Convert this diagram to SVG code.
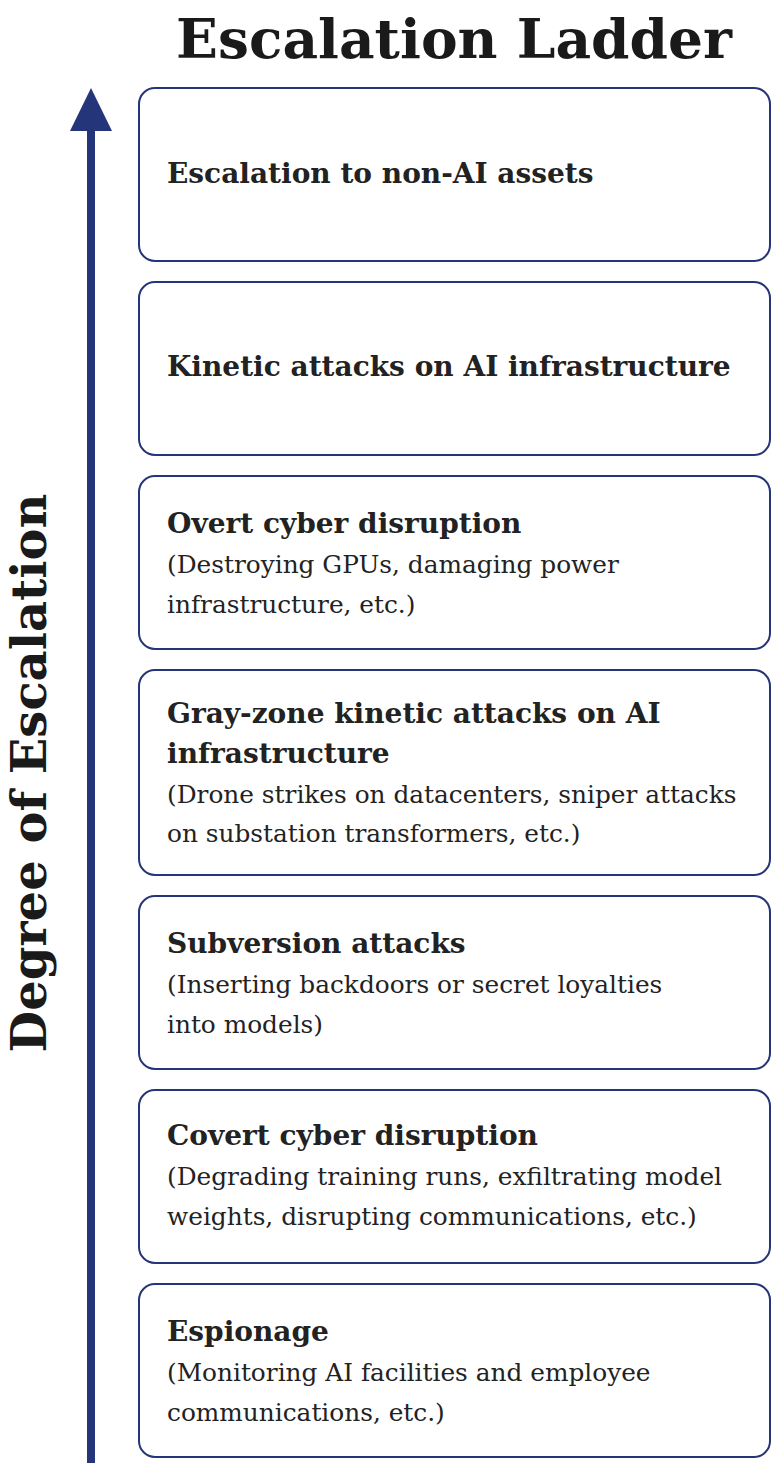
<svg xmlns="http://www.w3.org/2000/svg" width="772" height="1463" viewBox="0 0 772 1463">
<style>
.box{fill:#fff;stroke:#24357a;stroke-width:2}
.h{font-family:"DejaVu Serif",serif;font-weight:bold;font-size:28px;fill:#222}
.b{font-family:"DejaVu Serif",serif;font-size:24.8px;fill:#222}
.t{font-family:"DejaVu Serif",serif;font-weight:bold;font-size:55px;fill:#1a1a1a}
</style>
<rect width="772" height="1463" fill="#fff"/>
<text class="t" x="454" y="58" text-anchor="middle">Escalation Ladder</text>
<text class="t" transform="translate(46,773) rotate(-90)" text-anchor="middle" style="font-size:48px">Degree of Escalation</text>
<g id="connectors">
<line x1="91" y1="1463" x2="91" y2="125" stroke="#24357a" stroke-width="8"/>
<polygon points="91,88 70,131 112,131" fill="#24357a"/>
</g>
<g id="n1"><rect class="box" x="139" y="88" width="631" height="173" rx="16"/><text class="h" x="167" y="183">Escalation to non-AI assets</text></g>
<g id="n2"><rect class="box" x="139" y="282" width="631" height="173" rx="16"/><text class="h" x="167" y="376">Kinetic attacks on AI infrastructure</text></g>
<g id="n3"><rect class="box" x="139" y="476" width="631" height="173" rx="16"/><text class="h" x="167" y="533">Overt cyber disruption</text><text class="b" x="167" y="573">(Destroying GPUs, damaging power</text><text class="b" x="167" y="613">infrastructure, etc.)</text></g>
<g id="n4"><rect class="box" x="139" y="670" width="631" height="205" rx="16"/><text class="h" x="167" y="723">Gray-zone kinetic attacks on AI</text><text class="h" x="167" y="763">infrastructure</text><text class="b" x="167" y="803">(Drone strikes on datacenters, sniper attacks</text><text class="b" x="167" y="842">on substation transformers, etc.)</text></g>
<g id="n5"><rect class="box" x="139" y="896" width="631" height="173" rx="16"/><text class="h" x="167" y="953">Subversion attacks</text><text class="b" x="167" y="993">(Inserting backdoors or secret loyalties</text><text class="b" x="167" y="1033">into models)</text></g>
<g id="n6"><rect class="box" x="139" y="1090" width="631" height="173" rx="16"/><text class="h" x="167" y="1145">Covert cyber disruption</text><text class="b" x="167" y="1185">(Degrading training runs, exfiltrating model</text><text class="b" x="167" y="1225">weights, disrupting communications, etc.)</text></g>
<g id="n7"><rect class="box" x="139" y="1284" width="631" height="173" rx="16"/><text class="h" x="167" y="1341">Espionage</text><text class="b" x="167" y="1381">(Monitoring AI facilities and employee</text><text class="b" x="167" y="1421">communications, etc.)</text></g>
</svg>
